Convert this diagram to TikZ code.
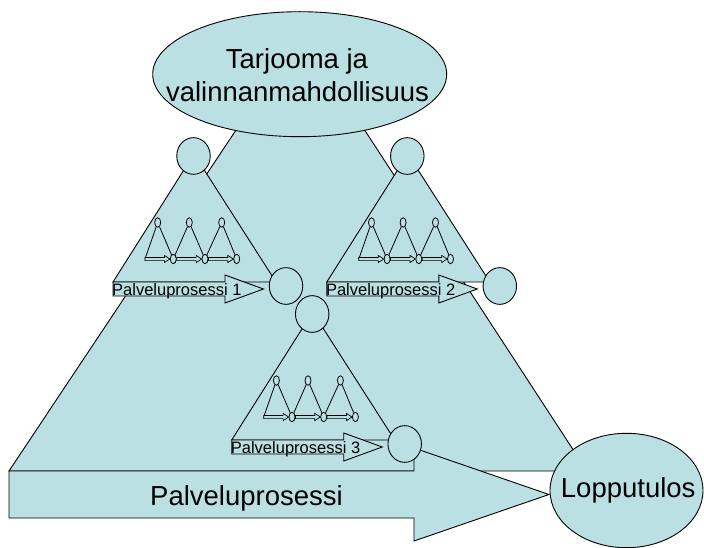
\documentclass[tikz,border=0pt]{standalone}
\usepackage{fontspec}
\setmainfont{Liberation Sans}
\usetikzlibrary{shapes.geometric,calc}
\definecolor{pfill}{RGB}{187,224,227}
\tikzset{
  shp/.style={fill=pfill, draw=black, line width=0.9pt, line join=miter},
  circ/.style={ellipse, shp, inner sep=0, minimum width=33.5, minimum height=36.7},
  oval/.style={ellipse, shp, line width=0.8pt, inner sep=0, minimum width=6, minimum height=9.5},
  leg/.style={draw=black, line width=0.8pt},
  bigtxt/.style={font=\fontsize{27.5}{33.4}\selectfont, inner sep=0},
  smalltxt/.style={font=\fontsize{16.5}{20}\selectfont, inner sep=0},
}
\newcommand\minarrow[2]{%
  \path[shp, line width=0.7pt] let \p1=(#1), \p2=(#2) in
   ({\x1},{\y1+1.6pt}) -- ({\x2-5.5pt},{\y1+1.6pt}) -- ({\x2-5.5pt},{\y1+3.6pt}) --
   ({\x2},{\y1}) -- ({\x2-5.5pt},{\y1-3.6pt}) -- ({\x2-5.5pt},{\y1-1.6pt}) --
   ({\x1},{\y1-1.6pt}) -- cycle;}
\newcommand\subproc[4]{%
  \begin{scope}[shift={(#2,#3)}]
    \coordinate (#1apex) at (0,0);
    \coordinate (#1bl) at (-81,128);
    \coordinate (#1br) at (82,128);
    \path[shp] (#1apex) -- (#1bl) -- (#1br) -- cycle;
    \node[circ] (#1in) at (-0.5,2) {};
    \path[shp] (-81,128) -- (31,128) -- (31,121) -- (69.5,135) -- (31,149) -- (31,142) -- (-81,142) -- cycle;
    \node[smalltxt, anchor=base west] (#1lab) at (-82,141) {#4};
    \node[circ] (#1out) at (92,132) {};
    \coordinate (#1s) at (-49,105);
    \node[oval] (#1t1) at (-36.3,68.5) {};
    \node[oval] (#1t2) at (-4.7,68.5) {};
    \node[oval] (#1t3) at (27.7,68.5) {};
    \node[oval] (#1b1) at (-20.7,105) {};
    \node[oval] (#1b2) at (11,105) {};
    \node[oval] (#1b3) at (42.7,105) {};
    \draw[leg] (#1t1) -- (#1s);
    \draw[leg] (#1t1) -- (#1b1);
    \draw[leg] (#1t2) -- (#1b1);
    \draw[leg] (#1t2) -- (#1b2);
    \draw[leg] (#1t3) -- (#1b2);
    \draw[leg] (#1t3) -- (#1b3);
    \minarrow{#1s}{#1b1.west}
    \minarrow{#1b1.east}{#1b2.west}
    \minarrow{#1b2.east}{#1b3.west}
  \end{scope}}
\begin{document}
\begin{tikzpicture}[x=1pt, y=-1pt]
  \useasboundingbox (0,0) rectangle (704,548);
  % big background triangle
  \coordinate (A) at (301,32.5);
  \coordinate (B) at (9,471);
  \coordinate (C) at (587,471);
  \path[shp] (A) -- (B) -- (C) -- cycle;
  % big arrow
  \path[shp] (9,471) -- (414,471) -- (414,448) -- (549,494.5) -- (414,541) -- (414,518) -- (9,518) -- cycle;
  \node[bigtxt, anchor=base] (plab) at (246.5,505.5) {Palveluprosessi};
  % top ellipse
  \node[ellipse, shp, inner sep=0, minimum width=294, minimum height=125] (top) at (299.7,74.2) {};
  \node[bigtxt, anchor=base] (tj1) at (297,68.5) {Tarjooma ja};
  \node[bigtxt, anchor=base] (tj2) at (297.5,101.7) {valinnanmahdollisuus};
  % sub-processes
  \subproc{c}{312.7}{312}{Palveluprosessi 3}
  \subproc{a}{194}{154}{Palveluprosessi 1}
  \subproc{b}{407.8}{154}{Palveluprosessi 2}
  % result
  \node[ellipse, shp, inner sep=0, minimum width=153, minimum height=114.4] (res) at (626.5,490.5) {};
  \node[bigtxt, anchor=base] (reslab) at (628.2,497.3) {Lopputulos};
\end{tikzpicture}
\end{document}
